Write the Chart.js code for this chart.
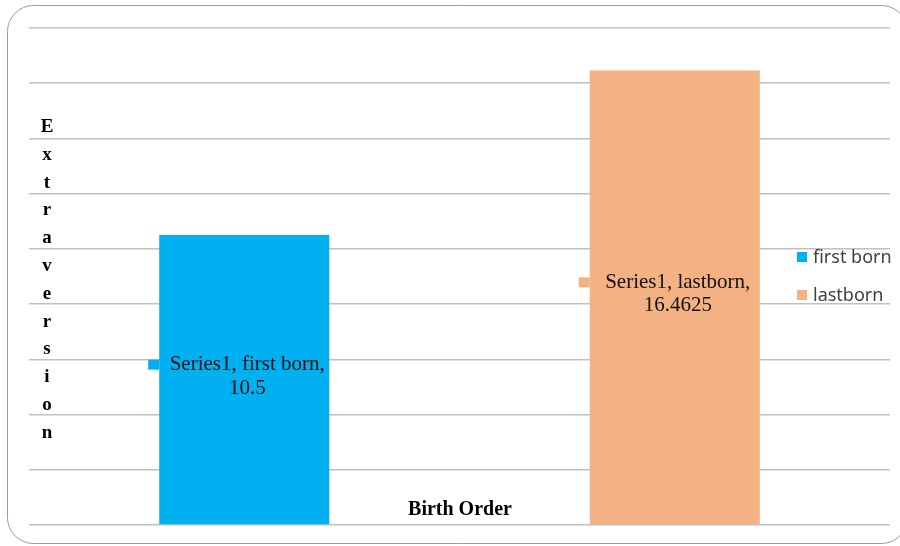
<!DOCTYPE html>
<html>
<head>
<meta charset="utf-8">
<script src="https://cdn.jsdelivr.net/npm/chart.js@4"></script>
<style>
  html, body { margin: 0; padding: 0; background: #fff; }
  #wrap { width: 900px; height: 546px; position: relative; }
</style>
</head>
<body>
<div id="wrap"><canvas id="chart"></canvas></div>
<script>
const categories = ['first born', 'lastborn'];
const firstBorn = [10.5, null];
const lastBorn = [null, 16.4625];
const yTicks = [0, 2, 4, 6, 8, 10, 12, 14, 16, 18];
const yTitle = 'Extraversion';
const xTitle = 'Birth Order';
const seriesName = 'Series1';

const BLUE = '#00B0F0';
const ORANGE = '#F4B183';

// frame, stacked axis title, data labels, legend
const decorations = {
    id: 'decorations',
    beforeDraw(chart) {
        const { ctx } = chart;
        ctx.save();
        ctx.strokeStyle = '#9a9a9a';
        ctx.lineWidth = 1;
        ctx.beginPath();
        ctx.roundRect(7.5, 5.5, 900, 538, 26);
        ctx.stroke();
        ctx.restore();
    },
    afterDraw(chart) {
        const { ctx } = chart;
        ctx.save();
        ctx.fillStyle = '#000';
        ctx.textAlign = 'center';
        ctx.textBaseline = 'middle';

        // vertical letters of the y title
        ctx.font = 'bold 19px "Liberation Serif"';
        yTitle.split('').forEach((ch, i) => {
            ctx.fillText(ch, 47, 127 + i * 27.8);
        });

        // x title sits inside the plot
        ctx.font = 'bold 20px "Liberation Serif"';
        ctx.fillText(xTitle, 460, 510);

        // data labels with callout markers
        ctx.font = '21px "Liberation Serif"';
        chart.data.datasets.forEach((ds, di) => {
            const meta = chart.getDatasetMeta(di);
            meta.data.forEach((bar, i) => {
                const v = ds.data[i];
                if (v == null) return;
                const props = bar.getProps(['x', 'y', 'base', 'width'], true);
                const cy = (props.y + props.base) / 2;
                const l1 = cy - 15;
                const l2 = cy + 8.5;
                ctx.fillStyle = ds.backgroundColor;
                ctx.fillRect(props.x - props.width / 2 - 11, l1 - 5, 11, 10);
                ctx.fillStyle = '#111';
                ctx.fillText(seriesName + ', ' + categories[i] + ',', props.x + 3, l1);
                ctx.fillText(String(v), props.x + 3, l2);
            });
        });

        // legend
        ctx.textAlign = 'left';
        ctx.font = '18px "Noto Sans"';
        chart.data.datasets.forEach((ds, di) => {
            const y = 257 + di * 38;
            ctx.fillStyle = ds.backgroundColor;
            ctx.fillRect(797, y - 5, 10, 10);
            ctx.fillStyle = '#404040';
            ctx.fillText(ds.label, 813, y + 1);
        });
        ctx.restore();
    }
};

new Chart(document.getElementById('chart'), {
    type: 'bar',
    data: {
        labels: categories,
        datasets: [
            { label: categories[0], data: firstBorn, backgroundColor: BLUE },
            { label: categories[1], data: lastBorn, backgroundColor: ORANGE },
        ],
    },
    options: {
        responsive: true,
        maintainAspectRatio: false,
        animation: false,
        layout: { padding: { left: 29, right: 10, top: 28, bottom: 21 } },
        datasets: { bar: { categoryPercentage: 1, barPercentage: 0.395 } },
        plugins: { legend: { display: false }, tooltip: { enabled: false } },
        scales: {
            x: {
                stacked: true,
                grid: { display: false },
                border: { display: false },
                ticks: { display: false },
                afterFit: (s) => { s.height = 0; },
            },
            y: {
                min: yTicks[0],
                max: yTicks[yTicks.length - 1],
                afterBuildTicks: (s) => { s.ticks = yTicks.map((v) => ({ value: v })); },
                ticks: { display: false },
                grid: { color: '#c0c0c0', lineWidth: 1.5, drawTicks: false },
                border: { display: false },
                afterFit: (s) => { s.width = 0; },
            },
        },
    },
    plugins: [decorations],
});
</script>
</body>
</html>
